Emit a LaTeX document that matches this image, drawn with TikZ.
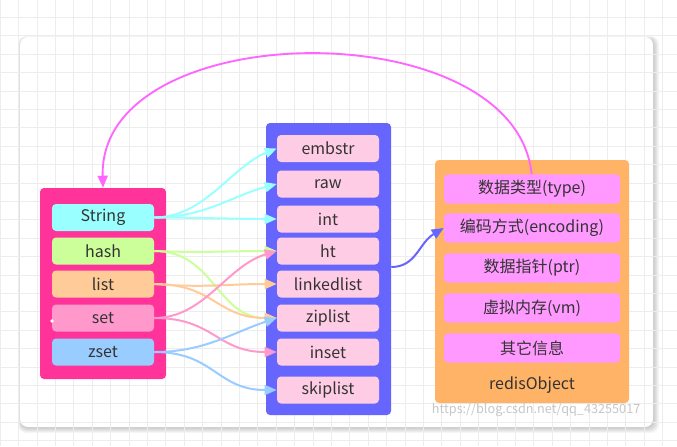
\documentclass[tikz,border=0pt]{standalone}
\usepackage{fontspec}
\setmainfont{Noto Sans CJK SC}
\usetikzlibrary{arrows.meta}
\definecolor{gridc}{HTML}{EDEDED}
\definecolor{lbox}{HTML}{FF3399}
\definecolor{mbox}{HTML}{6666FF}
\definecolor{rbox}{HTML}{FFB366}
\definecolor{cStr}{HTML}{99FFFF}
\definecolor{cHash}{HTML}{CCFF99}
\definecolor{cList}{HTML}{FFCC99}
\definecolor{cSet}{HTML}{FF99CC}
\definecolor{cZset}{HTML}{99CCFF}
\definecolor{mitem}{HTML}{FFCCE5}
\definecolor{ritem}{HTML}{FF99FF}
\definecolor{arcc}{HTML}{FF66FF}
\definecolor{txt}{HTML}{333333}
\begin{document}
\begin{tikzpicture}[x=0.75pt,y=-0.75pt,
  container/.style={rounded corners=3pt, inner sep=0pt},
  item/.style={rounded corners=3pt, inner sep=0pt, text=txt, font=\fontsize{12}{14}\selectfont, minimum width=76.5pt, minimum height=20.25pt},
  ritemst/.style={item, fill=ritem, minimum width=132pt, minimum height=22pt},
  conn/.style={line width=1.5pt, -{Triangle[length=9pt,width=7.5pt]}},
]
\useasboundingbox (0,0) rectangle (677,446);
\fill[white] (0,0) rectangle (677,446);
% card shadow
\foreach \s in {1,...,6}
  \fill[black, opacity=0.035, rounded corners=6pt] ({20-\s*0.5+1},{37-\s*0.5+2}) rectangle ({653+\s},{427+\s});
\fill[white, rounded corners=6pt] (20,37) rectangle (653,427);
% grid
\foreach \k in {0,...,36} \draw[gridc, line width=0.6pt] ({0.1+\k*18.4},0) -- ++(0,446);
\foreach \k in {0,...,23} \draw[gridc, line width=0.6pt] (0,{17.3+\k*18.4}) -- ++(677,0);

% containers
\node[container, fill=lbox, minimum width=94.5pt, minimum height=143.25pt] (L) at (103,283.5) {};
\node[container, fill=mbox, minimum width=93.75pt, minimum height=219pt] (M) at (328.5,269) {};
\node[container, fill=rbox, minimum width=145.5pt, minimum height=182.25pt] (R) at (532,281.5) {};

% left items
\node[item, fill=cStr] (str) at (103,217.5) {String};
\node[item, fill=cHash] (hash) at (103,251) {hash};
\node[item, fill=cList] (list) at (103,284) {list};
\node[item, fill=cSet] (set) at (103,318) {set};
\node[item, fill=cZset] (zset) at (103,352) {zset};
\fill[white] (52,321) circle (1.4pt);

% middle items
\node[item, fill=mitem] (embstr) at (328,148.5) {embstr};
\node[item, fill=mitem] (raw) at (328,184) {raw};
\node[item, fill=mitem] (int) at (328,219) {int};
\node[item, fill=mitem] (ht) at (328,251) {ht};
\node[item, fill=mitem] (linked) at (328,284) {linkedlist};
\node[item, fill=mitem] (zip) at (328,318) {ziplist};
\node[item, fill=mitem] (inset) at (328,352) {inset};
\node[item, fill=mitem] (skip) at (328,390) {skiplist};

% magenta arc (drawn before right items so it sits under type box)
\draw[arcc, line width=1.4pt, -{Triangle[length=9pt,width=7.5pt]}]
  (532,189) .. controls (540,10) and (98,10) .. (L.north);

% right items
\node[ritemst] (type) at (532,189) {数据类型(type)};
\node[ritemst] (enc) at (532,228) {编码方式(encoding)};
\node[ritemst] (ptr) at (532,268) {数据指针(ptr)};
\node[ritemst] (vm) at (532,308) {虚拟内存(vm)};
\node[ritemst] (other) at (532,348) {其它信息};
\node[text=txt, font=\fontsize{12}{14}\selectfont] (ro) at (532,385) {redisObject};

% connectors
\draw[conn, cStr] (str.east) .. controls +(50,0) and +(-45,18) .. (embstr.west);
\draw[conn, cStr] (str.east) .. controls +(50,0) and +(-45,12) .. (raw.west);
\draw[conn, cStr] (str.east) .. controls +(40,0) and +(-40,0) .. (int.west);
\draw[conn, cHash] (hash.east) .. controls +(50,2) and +(-50,0) .. (ht.west);
\draw[conn, cHash] (hash.east) .. controls +(60,0) and +(-60,0) .. (zip.west);
\draw[conn, cList] (list.east) .. controls +(50,4) and +(-50,0) .. (linked.west);
\draw[conn, cList] (list.east) .. controls +(60,0) and +(-60,0) .. (zip.west);
\draw[conn, cSet] (set.east) .. controls +(50,0) and +(-50,15) .. (ht.west);
\draw[conn, cSet] (set.east) .. controls +(60,0) and +(-60,0) .. (inset.west);
\draw[conn, cZset] (zset.east) .. controls +(50,0) and +(-45,15) .. (zip.west);
\draw[conn, cZset] (zset.east) .. controls +(60,0) and +(-60,0) .. (skip.west);
\draw[conn, mbox] ([yshift=1.5pt]M.east) .. controls +(25,0) and +(-25,15) .. (enc.west);

% watermark
\node[text=black!22, font=\fontsize{9.5}{11}\selectfont, anchor=east] (wm) at (645,410) {https://blog.csdn.net/qq\_43255017};
\end{tikzpicture}
\end{document}
